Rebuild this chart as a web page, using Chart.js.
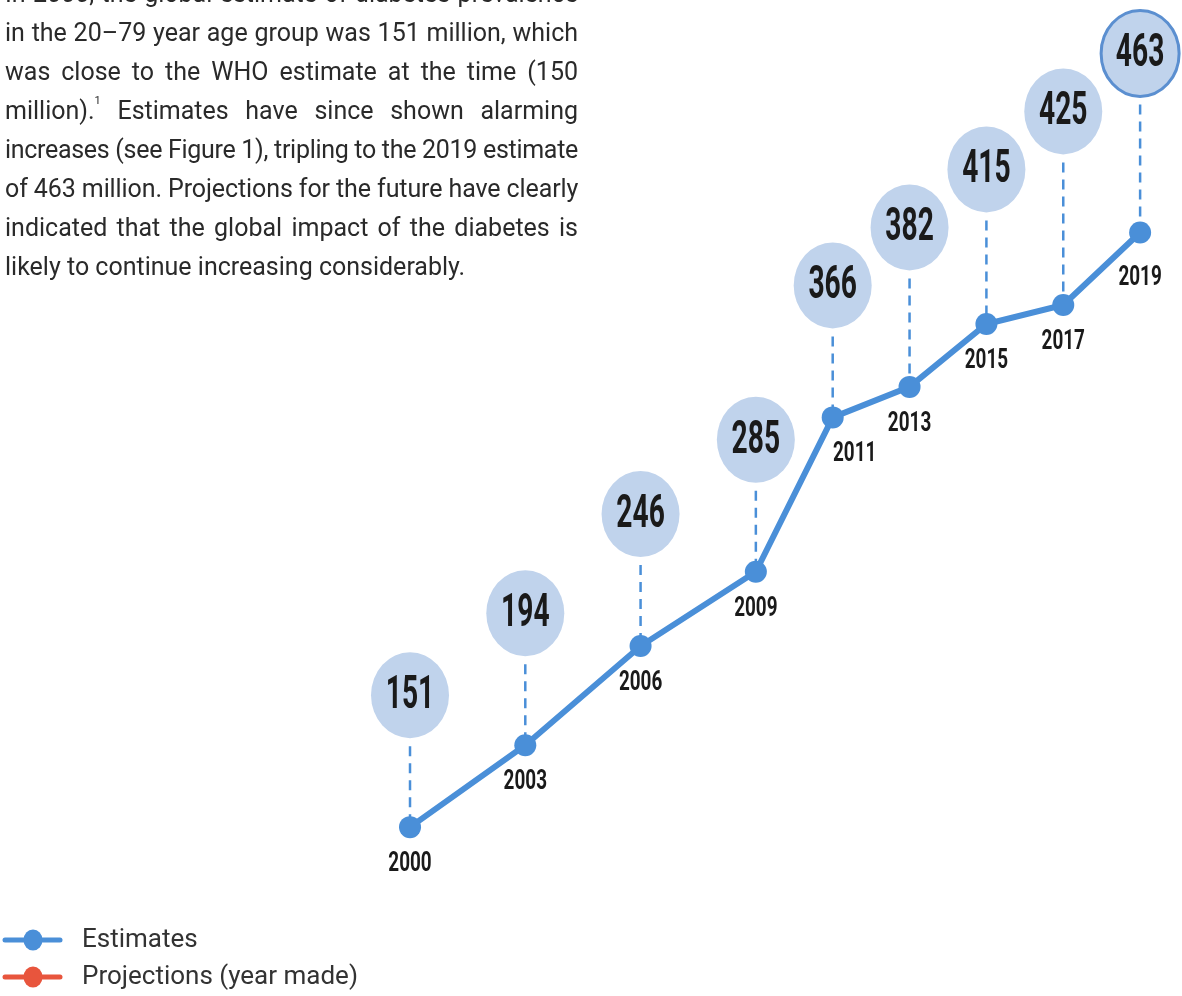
<!DOCTYPE html>
<html>
<head>
<meta charset="utf-8">
<script src="https://cdn.jsdelivr.net/npm/chart.js@4/dist/chart.umd.min.js"></script>
<style>
html, body { margin: 0; padding: 0; background: #ffffff; overflow: hidden; }
#wrap { position: relative; width: 1182px; height: 996px; }
#chartBox { position: absolute; left: 0; top: 0; width: 1182px; height: 996px; }
#para { position: absolute; left: 5px; top: -26px; width: 573px; font-family: Roboto, "Noto Sans", sans-serif;
        font-size: 25px; line-height: 39px; color: #2a2a2a; }
#para .ln { white-space: nowrap; text-align: justify; text-align-last: justify; }
#para .ln.last { text-align: left; text-align-last: left; }
#para sup { font-size: 11px; vertical-align: top; line-height: 20px; }
</style>
</head>
<body>
<div id="wrap">
  <div id="chartBox"><canvas id="c"></canvas></div>
  <div id="para">
    <div class="ln">In 2000, the global estimate of diabetes prevalence</div>
    <div class="ln">in the 20–79 year age group was 151 million, which</div>
    <div class="ln">was close to the WHO estimate at the time (150</div>
    <div class="ln">million).<sup>1</sup> Estimates have since shown alarming</div>
    <div class="ln">increases (see Figure 1), tripling to the 2019 estimate</div>
    <div class="ln">of 463 million. Projections for the future have clearly</div>
    <div class="ln">indicated that the global impact of the diabetes is</div>
    <div class="ln last">likely to continue increasing considerably.</div>
  </div>
</div>
<script>
// ---- data ----
const years = [2000, 2003, 2006, 2009, 2011, 2013, 2015, 2017, 2019];
const estimates = [151, 194, 246, 285, 366, 382, 415, 425, 463];
const projectionYears = [];
const projections = [];
const seriesNames = ['Estimates', 'Projections (year made)'];

// ---- style ----
const BLUE = '#4a8fd8';
const RED = '#e8553d';
const BUBBLE_FILL = '#c0d3ec';
const RX = 39, RY = 43, BUBBLE_OFFSET = 132, BUBBLE_STEP = 58;

// fit paragraph lines into the column width
document.querySelectorAll('#para .ln').forEach(el => {
  let ls = 0;
  while (el.scrollWidth > 573 && ls > -2) { ls -= 0.1; el.style.letterSpacing = ls + 'px'; }
});

function legendIcon(color) {
  const cv = document.createElement('canvas');
  cv.width = 80; cv.height = 26;
  const g = cv.getContext('2d');
  g.strokeStyle = color; g.lineWidth = 5; g.lineCap = 'round';
  g.beginPath(); g.moveTo(5, 13); g.lineTo(60, 13); g.stroke();
  g.fillStyle = color;
  g.beginPath(); g.ellipse(33, 13, 9.5, 10.5, 0, 0, Math.PI * 2); g.fill();
  return cv;
}
const icons = [legendIcon(BLUE), legendIcon(RED)];

function condensedText(ctx, text, x, y, font, sx) {
  ctx.save();
  ctx.translate(x, y);
  ctx.scale(sx, 1);
  ctx.font = font;
  ctx.textAlign = 'center';
  ctx.textBaseline = 'middle';
  ctx.fillStyle = '#1a1a1a';
  ctx.fillText(text, 0, 0);
  ctx.restore();
}

function bubbleCenters(chart) {
  const pts = chart.getDatasetMeta(0).data;
  const out = [];
  pts.forEach((p, i) => {
    let cy = p.y - BUBBLE_OFFSET;
    if (i > 0) {
      const prev = out[i - 1];
      if (Math.abs(p.x - prev.x) < 2 * RX + 12) cy = Math.min(cy, prev.y - BUBBLE_STEP);
    }
    out.push({ x: p.x, y: cy });
  });
  return out;
}

const bubblePlugin = {
  id: 'valueBubbles',
  afterLayout(chart) {
    if (chart.legend) { chart.legend.bottom = chart.height + 5; }
  },
  beforeDatasetsDraw(chart) {
    const ctx = chart.ctx;
    const pts = chart.getDatasetMeta(0).data;
    const centers = bubbleCenters(chart);
    pts.forEach((p, i) => {
      const c = centers[i];
      ctx.save();
      ctx.strokeStyle = BLUE;
      ctx.lineWidth = 2.5;
      ctx.setLineDash([10, 7]);
      ctx.beginPath();
      ctx.moveTo(p.x, c.y + RY + 8);
      ctx.lineTo(p.x, p.y);
      ctx.stroke();
      ctx.restore();
      ctx.save();
      ctx.fillStyle = BUBBLE_FILL;
      ctx.beginPath();
      ctx.ellipse(c.x, c.y, RX, RY, 0, 0, Math.PI * 2);
      ctx.fill();
      if (i === pts.length - 1) {
        ctx.strokeStyle = '#5b8fd0';
        ctx.lineWidth = 3;
        ctx.stroke();
      }
      ctx.restore();
      condensedText(ctx, String(estimates[i]), c.x, c.y + 1, 'bold 47px Roboto, "Noto Sans", sans-serif', 0.6);
    });
  },
  afterDatasetsDraw(chart) {
    const ctx = chart.ctx;
    const pts = chart.getDatasetMeta(0).data;
    pts.forEach((p, i) => {
      let lx = p.x;
      if (i > 0) {
        const q = pts[i - 1];
        const slope = Math.abs((p.y - q.y) / (p.x - q.x));
        if (slope > 1.5) lx += 22;
      }
      const dy = (i === pts.length - 1) ? 46 : 37;
      condensedText(ctx, String(years[i]), lx, p.y + dy, 'bold 27px Roboto, "Noto Sans", sans-serif', 0.7);
    });
  }
};

new Chart(document.getElementById('c'), {
  type: 'line',
  data: {
    datasets: [
      {
        label: seriesNames[0],
        data: years.map((y, i) => ({ x: y, y: estimates[i] })),
        borderColor: BLUE,
        backgroundColor: BLUE,
        borderWidth: 6,
        pointRadius: 11,
        pointHoverRadius: 11,
        pointBorderWidth: 0,
        pointBackgroundColor: BLUE,
        tension: 0,
        fill: false,
        clip: false
      },
      {
        label: seriesNames[1],
        data: projectionYears.map((y, i) => ({ x: y, y: projections[i] })),
        borderColor: RED,
        backgroundColor: RED,
        borderWidth: 6,
        pointRadius: 11,
        pointBorderWidth: 0,
        fill: false
      }
    ]
  },
  options: {
    responsive: true,
    maintainAspectRatio: false,
    animation: false,
    layout: { padding: 0, autoPadding: false },
    scales: {
      x: { type: 'linear', display: false, min: 1989.33, max: 2020.09 },
      y: { type: 'linear', display: false, min: 62.4, max: 585.0 }
    },
    plugins: {
      tooltip: { enabled: false },
      legend: {
        position: 'chartArea',
        align: 'end',
        labels: {
          usePointStyle: true,
          pointStyleWidth: 58,
          padding: 11,
          color: '#333333',
          font: { family: 'Roboto, "Noto Sans", sans-serif', size: 26 },
          generateLabels(chart) {
            return chart.data.datasets.map((ds, i) => ({
              text: ds.label,
              pointStyle: icons[i],
              fillStyle: ds.borderColor,
              strokeStyle: ds.borderColor,
              lineWidth: 0,
              hidden: false,
              datasetIndex: i,
              fontColor: '#333333'
            }));
          }
        }
      }
    }
  },
  plugins: [bubblePlugin]
});
</script>
</body>
</html>
